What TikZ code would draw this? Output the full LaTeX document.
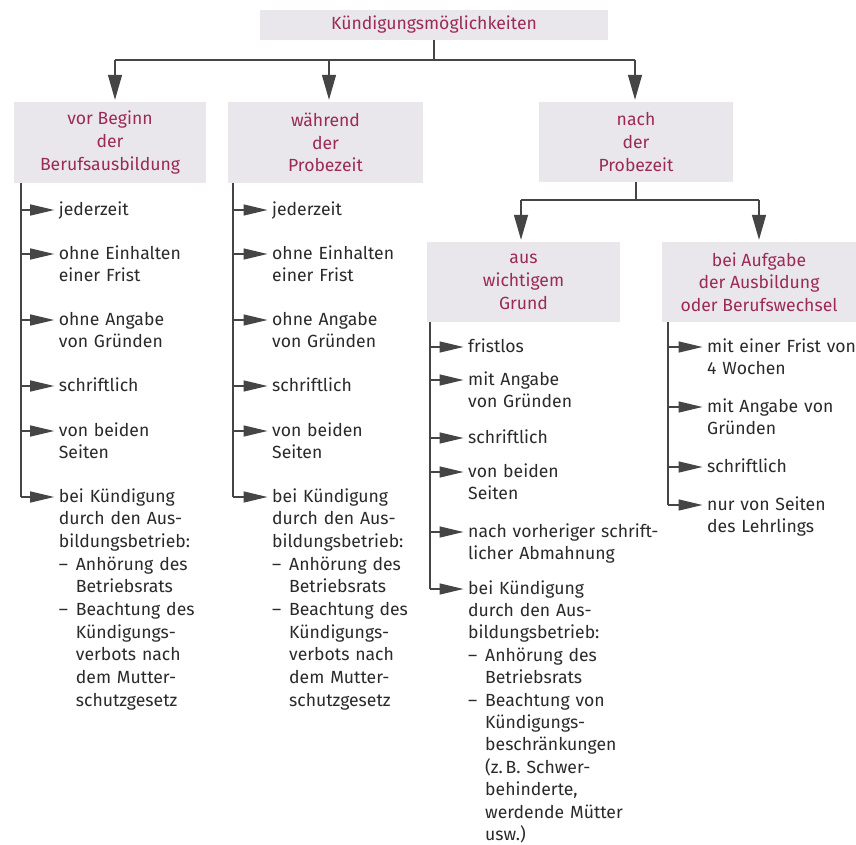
\documentclass[tikz,border=0pt]{standalone}
\usepackage{fontspec}
\setmainfont{Fira Sans}
\usetikzlibrary{arrows.meta}
\definecolor{boxfill}{HTML}{E9E7EC}
\definecolor{head}{HTML}{9B2A58}
\definecolor{txt}{HTML}{2A2A2A}
\definecolor{ln}{HTML}{454545}
\newcommand{\dsh}{\makebox[17pt][l]{–}}
\newcommand{\ind}{\hspace*{17pt}}
\begin{document}
\begin{tikzpicture}[x=1pt,y=-1pt,
  every node/.style={font=\fontsize{17.6}{22.7}\selectfont},
  hbox/.style={fill=boxfill, text=head, align=center, inner sep=0pt},
  item/.style={text=txt, align=left, text width=200pt, anchor=base west, inner sep=0pt},
  conn/.style={draw=ln, line width=1.4pt},
  bigarrow/.style={conn, -{Triangle[length=25pt,width=14pt]}, color=ln, shorten >=2pt},
  smallarrow/.style={conn, -{Triangle[length=24pt,width=11pt]}, color=ln, shorten >=4.5pt}]
\useasboundingbox (0,0) rectangle (856,845);
\fill[white] (0,0) rectangle (856,845);

% header boxes
\node[hbox, minimum width=348pt, minimum height=30pt] (top) at (434,25) {Kündigungsmöglichkeiten};
\node[hbox, minimum width=192pt, minimum height=81pt] (b1) at (110,142.5) {vor Beginn\\der\\Berufsausbildung};
\node[hbox, minimum width=195pt, minimum height=81pt] (b2) at (325.5,142.5) {während\\der\\Probezeit};
\node[hbox, minimum width=194pt, minimum height=80pt] (b3) at (636,142) {nach\\der\\Probezeit};
\node[hbox, minimum width=193pt, minimum height=80pt] (b4) at (523.5,282) {aus\\wichtigem\\Grund};
\node[hbox, minimum width=194pt, minimum height=80pt] (b5) at (759,282) {bei Aufgabe\\der Ausbildung\\oder Berufswechsel};

% top connectors
\coordinate (j0) at (434,60);
\coordinate (j1) at (115,60);
\coordinate (j2) at (329,60);
\coordinate (j3) at (635,60);
\draw[conn] (top.south) -- (j0);
\draw[conn] (j1) -- (j3);
\draw[bigarrow] (j1) -- (j1 |- b1.north);
\draw[bigarrow] (j2) -- (j2 |- b2.north);
\draw[bigarrow] (j3) -- (j3 |- b3.north);

\coordinate (k0) at (636,200);
\coordinate (k1) at (521,200);
\coordinate (k2) at (759,200);
\draw[conn] (b3.south) -- (k0);
\draw[conn] (k1) -- (k2);
\draw[bigarrow] (k1) -- (k1 |- b4.north);
\draw[bigarrow] (k2) -- (k2 |- b5.north);

% column 1
\node[item] (a1) at (58.7,215) {jederzeit};
\node[item] (a2) at (58.7,259) {ohne Einhalten\\einer Frist};
\node[item] (a3) at (58.7,325) {ohne Angabe\\von Gründen};
\node[item] (a4) at (58.7,391) {schriftlich};
\node[item] (a5) at (58.7,436) {von beiden\\Seiten};
\node[item] (a6) at (58.7,502) {bei Kündigung\\durch den Aus-\\bildungsbetrieb:\\\dsh Anhörung des\\\ind Betriebsrats\\\dsh Beachtung des\\\ind Kündigungs-\\\ind verbots nach\\\ind dem Mutter-\\\ind schutzgesetz};
\coordinate (ca1) at (21,210);
\coordinate (ca2) at (21,254);
\coordinate (ca3) at (21,320);
\coordinate (ca4) at (21,386);
\coordinate (ca5) at (21,431);
\coordinate (ca6) at (21,497);
\draw[conn] (ca1 |- b1.south) -- (ca6);
\foreach \i in {1,...,6} {\draw[smallarrow] (ca\i) -- (ca\i -| a\i.west);}

% column 2
\node[item] (b21) at (272,215) {jederzeit};
\node[item] (b22) at (272,259) {ohne Einhalten\\einer Frist};
\node[item] (b23) at (272,325) {ohne Angabe\\von Gründen};
\node[item] (b24) at (272,391) {schriftlich};
\node[item] (b25) at (272,436) {von beiden\\Seiten};
\node[item] (b26) at (272,502) {bei Kündigung\\durch den Aus-\\bildungsbetrieb:\\\dsh Anhörung des\\\ind Betriebsrats\\\dsh Beachtung des\\\ind Kündigungs-\\\ind verbots nach\\\ind dem Mutter-\\\ind schutzgesetz};
\coordinate (cb1) at (233,210);
\coordinate (cb2) at (233,254);
\coordinate (cb3) at (233,320);
\coordinate (cb4) at (233,386);
\coordinate (cb5) at (233,431);
\coordinate (cb6) at (233,497);
\draw[conn] (cb1 |- b2.south) -- (cb6);
\foreach \i in {1,...,6} {\draw[smallarrow] (cb\i) -- (cb\i -| b2\i.west);}

% column 4
\node[item] (d1) at (468,352) {fristlos};
\node[item] (d2) at (468,385) {mit Angabe\\von Gründen};
\node[item] (d3) at (468,443) {schriftlich};
\node[item] (d4) at (468,477) {von beiden\\Seiten};
\node[item] (d5) at (468,537) {nach vorheriger schrift-\\licher Abmahnung};
\node[item, font=\fontsize{17.6}{22.4}\selectfont] (d6) at (468,594) {bei Kündigung\\durch den Aus-\\bildungsbetrieb:\\\dsh Anhörung des\\\ind Betriebsrats\\\dsh Beachtung von\\\ind Kündigungs-\\\ind beschränkungen\\\ind (z.\,B. Schwer-\\\ind behinderte,\\\ind werdende Mütter\\\ind usw.)};
\coordinate (cd1) at (430,347);
\coordinate (cd2) at (430,380);
\coordinate (cd3) at (430,438);
\coordinate (cd4) at (430,472);
\coordinate (cd5) at (430,532);
\coordinate (cd6) at (430,589);
\draw[conn] (cd1 |- b4.south) -- (cd6);
\foreach \i in {1,...,6} {\draw[smallarrow] (cd\i) -- (cd\i -| d\i.west);}

% column 5
\node[item] (e1) at (707,352) {mit einer Frist von\\4 Wochen};
\node[item] (e2) at (707,412) {mit Angabe von\\Gründen};
\node[item] (e3) at (707,472) {schriftlich};
\node[item] (e4) at (707,510) {nur von Seiten\\des Lehrlings};
\coordinate (ce1) at (668,347);
\coordinate (ce2) at (668,407);
\coordinate (ce3) at (668,467);
\coordinate (ce4) at (668,505);
\draw[conn] (ce1 |- b5.south) -- (ce4);
\foreach \i in {1,...,4} {\draw[smallarrow] (ce\i) -- (ce\i -| e\i.west);}
\end{tikzpicture}
\end{document}
